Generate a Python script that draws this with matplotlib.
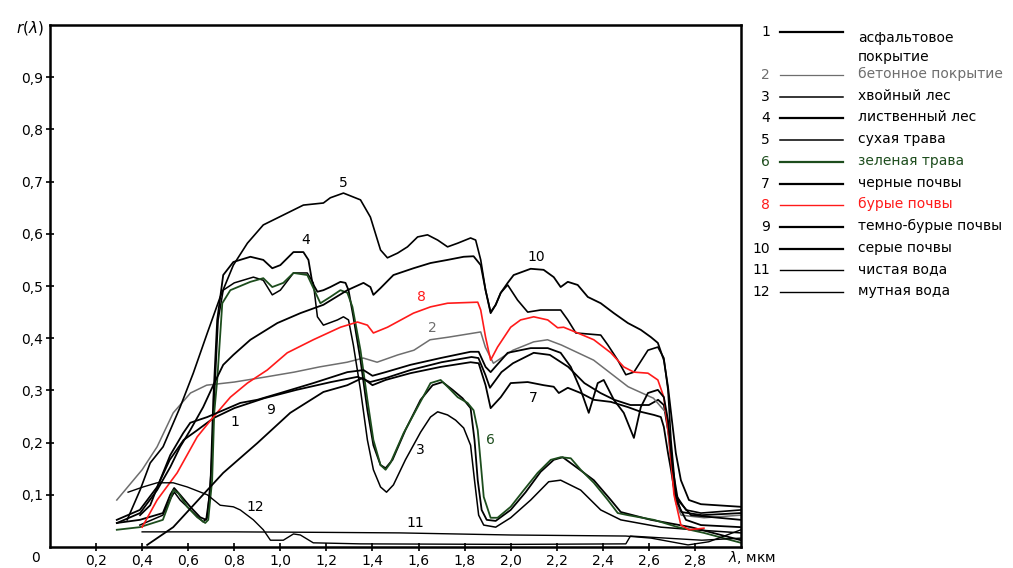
import matplotlib
matplotlib.use("Agg")
import matplotlib.pyplot as plt

plt.rcParams['font.family'] = ['DejaVu Sans']

# ---------------- data (wavelength, мкм ; reflectance) ----------------
curve_1 = [(0.29,0.052),(0.39,0.071),(0.465,0.115),(0.52,0.167),(0.58,0.205),(0.64,0.224),(0.71,0.247),
           (0.80,0.266),(0.93,0.285),(1.07,0.301),(1.22,0.316),(1.335,0.326),(1.39,0.316),(1.46,0.324),
           (1.565,0.339),(1.70,0.354),(1.83,0.364),(1.86,0.362),(1.89,0.330),(1.91,0.305),(1.96,0.335),
           (2.01,0.352),(2.10,0.372),(2.17,0.368),(2.25,0.345),(2.32,0.314),(2.39,0.295),(2.45,0.282),
           (2.52,0.272),(2.60,0.272),(2.64,0.282),(2.665,0.272),(2.69,0.205),(2.71,0.109),(2.74,0.067),
           (2.83,0.061),(3.0,0.065)]
curve_2 = [(0.29,0.090),(0.40,0.148),(0.465,0.192),(0.535,0.257),(0.61,0.295),(0.68,0.310),(0.80,0.316),
           (0.94,0.326),(1.06,0.335),(1.17,0.345),(1.29,0.354),(1.36,0.362),(1.42,0.354),(1.51,0.368),
           (1.58,0.377),(1.65,0.397),(1.73,0.402),(1.87,0.412),(1.89,0.383),(1.925,0.352),(2.01,0.377),
           (2.10,0.393),(2.16,0.397),(2.22,0.387),(2.36,0.358),(2.51,0.307),(2.62,0.285),(2.675,0.257),
           (2.695,0.167),(2.717,0.084),(2.74,0.061),(2.84,0.056),(3.0,0.061)]
curve_3 = [(0.39,0.042),(0.49,0.061),(0.52,0.090),(0.54,0.105),(0.565,0.090),(0.61,0.071),(0.665,0.048),
           (0.683,0.056),(0.70,0.148),(0.713,0.282),(0.73,0.435),(0.752,0.492),(0.80,0.506),(0.883,0.517),
           (0.926,0.511),(0.965,0.483),(1.0,0.492),(1.057,0.525),(1.117,0.525),(1.143,0.506),(1.161,0.441),
           (1.187,0.425),(1.248,0.435),(1.274,0.441),(1.296,0.435),(1.317,0.387),(1.348,0.301),(1.378,0.205),
           (1.404,0.148),(1.435,0.115),(1.461,0.105),(1.491,0.119),(1.543,0.167),(1.609,0.220),(1.652,0.249),
           (1.683,0.259),(1.726,0.253),(1.761,0.243),(1.796,0.228),(1.826,0.195),(1.843,0.128),(1.861,0.061),
           (1.883,0.042),(1.935,0.038),(2.0,0.056),(2.087,0.090),(2.165,0.125),(2.217,0.128),(2.304,0.109),
           (2.391,0.071),(2.478,0.052),(2.652,0.038),(2.796,0.033),(3.0,0.027)]
curve_4 = [(0.29,0.046),(0.39,0.052),(0.49,0.065),(0.522,0.100),(0.539,0.113),(0.565,0.100),(0.609,0.077),
           (0.652,0.057),(0.678,0.052),(0.696,0.109),(0.709,0.282),(0.726,0.435),(0.752,0.521),(0.796,0.546),
           (0.870,0.556),(0.926,0.550),(0.965,0.534),(1.0,0.540),(1.057,0.565),(1.100,0.565),(1.122,0.550),
           (1.139,0.506),(1.161,0.489),(1.187,0.492),(1.217,0.498),(1.261,0.508),(1.283,0.506),(1.296,0.492),
           (1.317,0.441),(1.348,0.358),(1.378,0.262),(1.404,0.195),(1.435,0.157),(1.457,0.151),(1.487,0.167),
           (1.543,0.224),(1.609,0.282),(1.661,0.310),(1.704,0.316),(1.748,0.301),(1.791,0.285),(1.826,0.266),
           (1.843,0.205),(1.857,0.128),(1.874,0.071),(1.896,0.052),(1.935,0.050),(2.0,0.071),(2.065,0.105),
           (2.130,0.144),(2.187,0.167),(2.226,0.172),(2.291,0.151),(2.361,0.128),(2.435,0.090),(2.478,0.067),
           (2.609,0.052),(2.783,0.038),(3.0,0.013)]
curve_5 = [(0.335,0.052),(0.391,0.109),(0.435,0.161),(0.491,0.192),(0.565,0.268),(0.622,0.333),(0.683,0.410),
           (0.739,0.479),(0.796,0.540),(0.857,0.582),(0.926,0.617),(1.013,0.636),(1.100,0.655),(1.187,0.659),
           (1.217,0.669),(1.274,0.678),(1.348,0.665),(1.391,0.632),(1.435,0.569),(1.465,0.554),(1.509,0.563),
           (1.552,0.575),(1.596,0.594),(1.639,0.598),(1.683,0.588),(1.726,0.575),(1.770,0.582),(1.826,0.592),
           (1.848,0.588),(1.870,0.550),(1.891,0.492),(1.913,0.450),(1.935,0.464),(1.957,0.487),(1.987,0.502),
           (2.030,0.473),(2.074,0.450),(2.130,0.454),(2.217,0.454),(2.248,0.435),(2.283,0.410),(2.391,0.406),
           (2.422,0.387),(2.465,0.358),(2.500,0.330),(2.535,0.335),(2.596,0.377),(2.639,0.383),(2.665,0.362),
           (2.683,0.301),(2.696,0.205),(2.717,0.100),(2.761,0.071),(2.826,0.065),(3.0,0.071)]
curve_6 = [(0.29,0.033),(0.39,0.038),(0.49,0.052),(0.522,0.090),(0.535,0.109),(0.557,0.103),(0.596,0.077),
           (0.639,0.057),(0.674,0.046),(0.687,0.052),(0.704,0.128),(0.713,0.257),(0.726,0.320),(0.748,0.467),
           (0.783,0.492),(0.870,0.508),(0.926,0.515),(0.965,0.498),(1.013,0.506),(1.057,0.525),(1.117,0.521),
           (1.174,0.467),(1.217,0.479),(1.261,0.492),(1.291,0.487),(1.313,0.460),(1.348,0.377),(1.378,0.282),
           (1.404,0.205),(1.435,0.157),(1.457,0.148),(1.478,0.161),(1.535,0.218),(1.596,0.268),(1.652,0.314),
           (1.696,0.320),(1.726,0.307),(1.770,0.287),(1.813,0.276),(1.839,0.262),(1.857,0.224),(1.870,0.161),
           (1.883,0.096),(1.913,0.056),(1.943,0.056),(2.0,0.077),(2.057,0.109),(2.117,0.142),(2.174,0.167),
           (2.217,0.172),(2.261,0.170),(2.304,0.148),(2.361,0.123),(2.422,0.090),(2.465,0.065),(2.509,0.061),
           (2.622,0.052),(2.726,0.038),(2.839,0.027),(3.0,0.008)]
curve_7 = [(0.422,0.004),(0.535,0.038),(0.683,0.109),(0.752,0.142),(0.90,0.199),(1.043,0.257),(1.187,0.297),
           (1.291,0.310),(1.357,0.324),(1.40,0.310),(1.457,0.320),(1.565,0.333),(1.696,0.345),(1.826,0.354),
           (1.861,0.352),(1.891,0.310),(1.913,0.266),(1.957,0.287),(2.0,0.314),(2.074,0.316),(2.143,0.310),
           (2.187,0.307),(2.209,0.295),(2.248,0.305),(2.304,0.295),(2.361,0.282),(2.435,0.278),(2.509,0.268),
           (2.565,0.259),(2.622,0.253),(2.652,0.249),(2.665,0.230),(2.683,0.180),(2.696,0.148),(2.717,0.090),
           (2.761,0.052),(2.826,0.042),(3.0,0.038)]
curve_8 = [(0.40,0.038),(0.465,0.090),(0.552,0.142),(0.639,0.211),(0.709,0.249),(0.783,0.287),(0.857,0.314),
           (0.943,0.339),(1.030,0.372),(1.143,0.397),(1.261,0.421),(1.335,0.431),(1.378,0.425),(1.404,0.410),
           (1.465,0.421),(1.578,0.448),(1.652,0.460),(1.726,0.467),(1.857,0.469),(1.870,0.454),(1.891,0.402),
           (1.913,0.358),(1.943,0.383),(2.0,0.421),(2.043,0.435),(2.100,0.441),(2.161,0.435),(2.204,0.420),
           (2.230,0.421),(2.291,0.410),(2.361,0.397),(2.435,0.372),(2.491,0.345),(2.535,0.335),(2.596,0.333),
           (2.639,0.320),(2.665,0.287),(2.687,0.211),(2.709,0.100),(2.739,0.042),(2.774,0.033),(2.839,0.036)]
curve_9 = [(0.391,0.061),(0.435,0.080),(0.478,0.128),(0.522,0.176),(0.578,0.218),(0.609,0.238),(0.683,0.249),
           (0.752,0.262),(0.826,0.276),(0.90,0.282),(1.0,0.295),(1.143,0.314),(1.291,0.335),(1.361,0.339),
           (1.40,0.328),(1.457,0.335),(1.565,0.349),(1.696,0.362),(1.826,0.374),(1.861,0.374),(1.891,0.345),
           (1.913,0.335),(1.987,0.372),(2.087,0.381),(2.161,0.381),(2.217,0.372),(2.261,0.345),(2.304,0.301),
           (2.339,0.257),(2.378,0.314),(2.404,0.320),(2.448,0.282),(2.491,0.257),(2.535,0.209),(2.565,0.268),
           (2.596,0.295),(2.639,0.301),(2.665,0.287),(2.683,0.243),(2.704,0.148),(2.726,0.090),(2.783,0.061),
           (3.0,0.052)]
curve_10 = [(0.291,0.046),(0.391,0.065),(0.465,0.109),(0.522,0.153),(0.565,0.192),(0.609,0.224),(0.665,0.268),
            (0.709,0.310),(0.752,0.349),(0.796,0.368),(0.870,0.397),(0.987,0.429),(1.087,0.448),(1.187,0.464),
            (1.291,0.492),(1.361,0.506),(1.391,0.498),(1.404,0.483),(1.435,0.496),(1.491,0.521),(1.578,0.534),
            (1.652,0.544),(1.726,0.550),(1.796,0.556),(1.839,0.557),(1.870,0.540),(1.891,0.492),(1.913,0.448),
            (1.935,0.464),(1.957,0.487),(1.987,0.506),(2.013,0.521),(2.087,0.533),(2.143,0.531),(2.187,0.517),
            (2.217,0.498),(2.248,0.508),(2.291,0.502),(2.335,0.479),(2.391,0.467),(2.448,0.448),(2.509,0.429),
            (2.565,0.416),(2.609,0.402),(2.639,0.391),(2.665,0.358),(2.683,0.307),(2.700,0.243),(2.717,0.180),
            (2.739,0.128),(2.774,0.090),(2.826,0.082),(3.0,0.077)]
curve_11 = [(0.40,0.029),(0.80,0.029),(1.20,0.028),(1.52,0.027),(2.0,0.023),(2.5,0.021),(2.61,0.017),
            (2.77,0.004),(2.86,0.010),(3.0,0.033)]
curve_12 = [(0.339,0.105),(0.404,0.115),(0.465,0.123),(0.535,0.123),(0.596,0.115),(0.683,0.100),(0.739,0.080),
            (0.796,0.077),(0.826,0.071),(0.883,0.052),(0.926,0.033),(0.957,0.013),(1.013,0.013),(1.057,0.025),
            (1.087,0.023),(1.143,0.008),(1.348,0.006),(2.0,0.005),(2.5,0.006),(2.52,0.021),(2.83,0.013),
            (3.0,0.017)]

curve_numbers = ["1", "2", "3", "4", "5", "6", "7", "8", "9", "10", "11", "12"]
legend_names = ["асфальтовое\nпокрытие", "бетонное покрытие", "хвойный лес", "лиственный лес",
                "сухая трава", "зеленая трава", "черные почвы", "бурые почвы", "темно-бурые почвы",
                "серые почвы", "чистая вода", "мутная вода"]
curves = [curve_1, curve_2, curve_3, curve_4, curve_5, curve_6, curve_7, curve_8, curve_9, curve_10,
          curve_11, curve_12]

# in-plot number label positions (wavelength, reflectance)
label_pos = [(0.804, 0.239), (1.661, 0.420), (1.609, 0.186), (1.109, 0.588), (1.274, 0.697),
             (1.913, 0.205), (2.10, 0.285), (1.613, 0.479), (0.957, 0.262), (2.109, 0.556),
             (1.587, 0.046), (0.891, 0.077)]

y_ticks = [0.1, 0.2, 0.3, 0.4, 0.5, 0.6, 0.7, 0.8, 0.9]
y_tick_labels = ["0,1", "0,2", "0,3", "0,4", "0,5", "0,6", "0,7", "0,8", "0,9"]
x_ticks = [0.2, 0.4, 0.6, 0.8, 1.0, 1.2, 1.4, 1.6, 1.8, 2.0, 2.2, 2.4, 2.6, 2.8]
x_tick_labels = ["0,2", "0,4", "0,6", "0,8", "1,0", "1,2", "1,4", "1,6", "1,8", "2,0", "2,2", "2,4",
                 "2,6", "2,8"]

# ---------------- styles ----------------
GREEN = "#1d4d1d"
RED = "#ff1a1a"
GRAY = "#6e6e6e"
line_colors = ["black", GRAY, "black", "black", "black", GREEN, "black", RED, "black", "black",
               "black", "black"]
line_widths = [1.3, 1.1, 1.1, 1.3, 1.2, 1.3, 1.3, 1.2, 1.3, 1.3, 1.0, 1.0]
text_colors = ["black", GRAY, "black", "black", "black", GREEN, "black", RED, "black", "black",
               "black", "black"]
legend_widths = [1.6, 0.9, 1.1, 1.6, 1.1, 1.6, 1.6, 1.0, 1.6, 1.6, 1.0, 1.0]

W, H = 1013, 568
fig = plt.figure(figsize=(W / 100, H / 100), dpi=100)
ax = fig.add_axes([50 / W, 21 / H, 691 / W, 522 / H])

for c, col, lw in zip(curves, line_colors, line_widths):
    xs = [p[0] for p in c]
    ys = [p[1] for p in c]
    ax.plot(xs, ys, color=col, lw=lw, solid_joinstyle='round')

for num, (lx, ly), col in zip(curve_numbers, label_pos, text_colors):
    ax.text(lx, ly, num, color=col, fontsize=10, ha='center', va='center')

ax.set_xlim(0, 3.0)
ax.set_ylim(0, 1.0)
ax.set_yticks(y_ticks)
ax.set_yticklabels(y_tick_labels)
ax.set_xticks(x_ticks)
ax.set_xticklabels(x_tick_labels)
ax.tick_params(direction='inout', length=6, width=1.2, labelsize=10, pad=2)
for s in ax.spines.values():
    s.set_linewidth(1.8)

ax.text(-0.065, -0.021, "0", fontsize=10, ha='center', va='center', clip_on=False)
ax.text(2.943, -0.021, r"$\lambda$, мкм", fontsize=10, ha='left', va='center', clip_on=False)
ax.text(-0.025, 0.995, r"$r(\lambda)$", fontsize=11, ha='right', va='center', clip_on=False)

# ---------------- legend (outside, right) ----------------
leg = fig.add_axes([0, 0, 1, 1])
leg.set_xlim(0, W)
leg.set_ylim(H, 0)
leg.axis('off')
row_y = [32] + [75 + 21.7 * k for k in range(11)]
for num, name, ry, col, tcol, lw in zip(curve_numbers, legend_names, row_y, line_colors,
                                         text_colors, legend_widths):
    leg.text(770, ry, num, fontsize=10, ha='right', va='center', color=tcol)
    leg.plot([780, 843], [ry, ry], color=col, lw=lw)
    leg.text(858, ry - 1, name, fontsize=10, ha='left', va='top' if "\n" in name else 'center',
             color=tcol, linespacing=1.5)

fig.savefig("out.png", dpi=100)
